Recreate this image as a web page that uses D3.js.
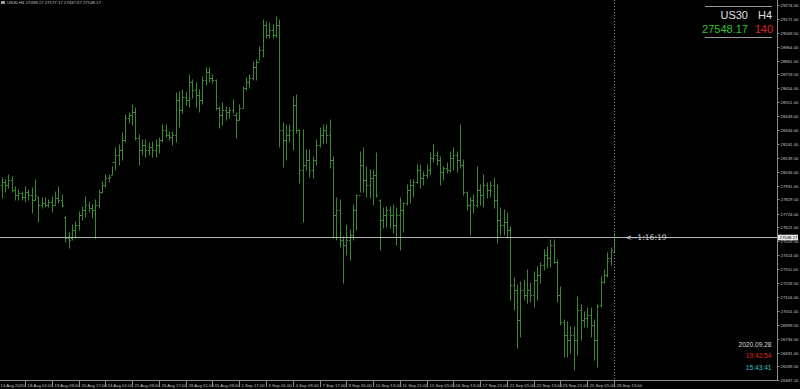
<!DOCTYPE html>
<html>
<head>
<meta charset="utf-8">
<script src="https://cdn.jsdelivr.net/npm/d3@7"></script>
<style>
  html, body { margin: 0; padding: 0; background: #000; }
  svg { display: block; }
</style>
</head>
<body>
<div id="chart"></div>
<script>
// US30 H4 bars, 14 Aug 21:00 .. 28 Sep 13:00
const opens = [
  27936, 27959, 27936, 27974, 27899, 27862, 27877, 27847, 27884, 27862,
  27825, 27847, 27788, 27803, 27788, 27810, 27788, 27840, 27825, 27699,
  27542, 27542, 27602, 27639, 27713, 27751, 27788, 27765, 27751, 27788,
  27884, 27936, 27988, 28011, 28107, 28159, 28196, 28271, 28434, 28457,
  28479, 28286, 28196, 28234, 28196, 28219, 28196, 28234, 28271, 28345,
  28308, 28293, 28308, 28568, 28494, 28590, 28568, 28702, 28642, 28605,
  28568, 28717, 28776, 28731, 28717, 28509, 28457, 28494, 28479, 28494,
  28457, 28419, 28509, 28657, 28702, 28731, 28813, 28850, 28940, 29125,
  29051, 29088, 29051, 29125, 28345, 28271, 28308, 28345, 28531, 28345,
  28048, 28085, 28122, 28048, 28122, 28234, 28308, 28345, 28308, 28122,
  27713, 27751, 27528, 27490, 27528, 27565, 27751, 27862, 28085, 27974,
  27936, 27988, 28011, 27825, 27676, 27713, 27751, 27713, 27639, 27713,
  27751, 27800, 27899, 27936, 27959, 28048, 27988, 28011, 28048, 28137,
  28159, 28122, 28033, 28063, 28048, 28137, 28159, 28122, 28085, 27884,
  27788, 27825, 27788, 27899, 27862, 27936, 27899, 27936, 27825, 27676,
  27639, 27661, 27602, 27193, 27156, 26933, 27156, 27119, 27156, 27119,
  27230, 27268, 27342, 27416, 27394, 27490, 27364, 27119, 26918, 26822,
  26784, 26822, 26784, 27007, 26933, 26948, 26970, 26896, 26784, 27045,
  27215, 27268, 27394, 27438.17
];
const highs = [
  27988, 27974, 28011, 27996, 27922, 27899, 27884, 27922, 27899, 27914,
  27974, 27847, 27840, 27840, 27825, 27847, 27884, 27922, 27862, 27699,
  27580, 27639, 27661, 27736, 27773, 27847, 27810, 27788, 27825, 27899,
  27959, 28011, 28011, 28070, 28211, 28234, 28323, 28457, 28471, 28531,
  28509, 28308, 28271, 28271, 28248, 28256, 28271, 28286, 28382, 28382,
  28330, 28330, 28620, 28627, 28642, 28627, 28754, 28717, 28694, 28642,
  28739, 28806, 28806, 28754, 28717, 28516, 28546, 28516, 28509, 28568,
  28471, 28531, 28665, 28731, 28754, 28850, 28865, 28962, 29162, 29148,
  29140, 29125, 29185, 29162, 28397, 28382, 28382, 28590, 28605, 28345,
  28345, 28196, 28196, 28144, 28271, 28360, 28382, 28382, 28419, 28144,
  27840, 27825, 27550, 27639, 27602, 27788, 27862, 28182, 28211, 28070,
  28048, 28048, 28174, 27825, 27765, 27773, 27773, 27788, 27765, 27840,
  27803, 27936, 27974, 27974, 28085, 28085, 28033, 28085, 28174, 28234,
  28182, 28144, 28070, 28100, 28182, 28211, 28182, 28382, 28122, 27884,
  27840, 27862, 28070, 27936, 28011, 27951, 27959, 27988, 27936, 27765,
  27751, 27728, 27624, 27245, 27193, 27215, 27230, 27305, 27208, 27290,
  27327, 27357, 27453, 27476, 27528, 27528, 27379, 27178, 26933, 26918,
  26881, 26881, 27104, 27045, 26993, 27022, 27022, 26933, 27045, 27253,
  27305, 27431, 27468, 27577.17
];
const lows = [
  27840, 27884, 27914, 27884, 27825, 27825, 27825, 27810, 27825, 27728,
  27825, 27661, 27765, 27773, 27773, 27736, 27788, 27803, 27773, 27513,
  27468, 27528, 27542, 27602, 27676, 27699, 27736, 27691, 27542, 27765,
  27877, 27922, 27959, 28011, 28048, 28085, 28122, 28256, 28397, 28382,
  28271, 28085, 28159, 28144, 28159, 28144, 28144, 28174, 28256, 28293,
  28271, 28234, 28256, 28367, 28471, 28531, 28516, 28583, 28516, 28479,
  28538, 28679, 28702, 28694, 28494, 28360, 28382, 28419, 28434, 28471,
  28286, 28419, 28509, 28642, 28657, 28717, 28717, 28865, 28888, 29029,
  29029, 29029, 29036, 28219, 28070, 28122, 28256, 28196, 28323, 27951,
  27661, 28048, 27996, 27988, 28085, 28219, 28248, 28248, 28063, 27542,
  27528, 27476, 27208, 27416, 27379, 27528, 27602, 27884, 27884, 27847,
  27840, 27788, 27847, 27453, 27617, 27624, 27617, 27580, 27490, 27453,
  27587, 27788, 27803, 27847, 27951, 27914, 27936, 27988, 28011, 28107,
  28085, 27936, 27974, 28026, 28033, 28048, 28033, 28063, 27862, 27751,
  27565, 27728, 27773, 27788, 27773, 27840, 27847, 27765, 27505, 27565,
  27565, 27542, 27082, 27007, 26725, 26807, 27082, 27059, 27067, 27030,
  27082, 27208, 27305, 27320, 27327, 27357, 27067, 26896, 26658, 26658,
  26688, 26561, 26673, 26784, 26881, 26881, 26807, 26636, 26584, 27030,
  27208, 27253, 27342, 27437.67
];
const closes = [
  27959, 27936, 27974, 27899, 27862, 27877, 27847, 27884, 27862, 27825,
  27862, 27788, 27803, 27788, 27810, 27788, 27840, 27825, 27788, 27542,
  27528, 27602, 27639, 27713, 27751, 27788, 27765, 27751, 27788, 27884,
  27936, 27988, 27996, 28107, 28159, 28196, 28271, 28434, 28457, 28479,
  28286, 28196, 28234, 28196, 28219, 28196, 28234, 28271, 28345, 28308,
  28293, 28308, 28568, 28494, 28590, 28568, 28702, 28642, 28605, 28568,
  28717, 28776, 28731, 28717, 28509, 28457, 28494, 28479, 28494, 28457,
  28419, 28509, 28657, 28702, 28731, 28813, 28850, 28940, 29125, 29051,
  29088, 29051, 29125, 28345, 28271, 28308, 28345, 28531, 28345, 28048,
  28085, 28122, 28048, 28122, 28234, 28308, 28345, 28308, 28122, 27713,
  27751, 27528, 27490, 27528, 27565, 27751, 27862, 28085, 27974, 27936,
  27988, 28011, 27862, 27676, 27713, 27751, 27713, 27639, 27713, 27751,
  27800, 27899, 27936, 27959, 28048, 27988, 28011, 28048, 28137, 28159,
  28122, 28033, 28063, 28048, 28137, 28159, 28122, 28085, 27884, 27788,
  27825, 27788, 27899, 27862, 27936, 27899, 27936, 27825, 27676, 27639,
  27661, 27602, 27193, 27156, 26933, 27156, 27119, 27156, 27119, 27230,
  27268, 27342, 27416, 27394, 27490, 27364, 27119, 26918, 26822, 26784,
  26822, 26784, 27007, 26933, 26948, 26970, 26896, 26784, 27037, 27215,
  27268, 27394, 27453, 27548.17
];

// time axis: one label every 8 bars, starting at bar 7
const timeLabels = ["18 Aug 01:00", "19 Aug 09:00", "20 Aug 17:00", "24 Aug 01:00",
  "25 Aug 09:00", "26 Aug 17:00", "28 Aug 01:00", "31 Aug 09:00", "1 Sep 17:00",
  "3 Sep 01:00", "4 Sep 09:00", "7 Sep 17:00", "9 Sep 05:00", "10 Sep 13:00",
  "11 Sep 21:00", "15 Sep 05:00", "16 Sep 13:00", "17 Sep 21:00", "21 Sep 05:00",
  "22 Sep 13:00", "23 Sep 21:00", "25 Sep 05:00", "28 Sep 13:00"];
const timeLabelBars = [7, 15, 23, 31, 39, 47, 55, 63, 71, 79, 87, 95, 103, 111,
  119, 127, 135, 143, 151, 159, 167, 175, 183];

const priceLabels = [29274.00, 29171.00, 29069.50, 28964.00, 28861.00, 28759.50,
  28654.00, 28551.00, 28449.00, 28344.00, 28241.00, 28139.50, 28034.00, 27931.00,
  27829.50, 27724.00, 27621.00, 27519.50, 27414.00, 27311.00, 27209.50, 27104.00,
  27001.00, 26899.50, 26794.00, 26691.00, 26589.50, 26487.20];

const bid = 27548.17;
const spread = 140;

const W = 800, H = 389;
const svg = d3.select("#chart").append("svg")
  .attr("width", W).attr("height", H)
  .style("background", "#000");

const y = d3.scaleLinear().domain([26487.2, 29274]).range([380, 5]);
const x = d3.scaleLinear().domain([0, opens.length - 1]).range([1.6, 614]);

const barColor = "#3b8732";
const axisColor = "#8c8c8c";
const textColor = "#c4c4c4";
const fontFam = "'Liberation Sans', Arial, sans-serif";

// bars
const bars = svg.append("g").attr("stroke", barColor).attr("stroke-width", 1);
opens.forEach(function(o, i) {
  const xi = Math.round(x(i)) + 0.5;
  bars.append("line")
    .attr("x1", xi).attr("x2", xi)
    .attr("y1", y(highs[i]) - 0.5).attr("y2", y(lows[i]) + 0.5);
  bars.append("line")
    .attr("x1", xi - 1.5).attr("x2", xi)
    .attr("y1", Math.round(y(o)) + 0.5).attr("y2", Math.round(y(o)) + 0.5);
  bars.append("line")
    .attr("x1", xi).attr("x2", xi + 1.5)
    .attr("y1", Math.round(y(closes[i])) + 0.5).attr("y2", Math.round(y(closes[i])) + 0.5);
});

// bid line
const by = Math.round(y(bid)) + 0.5;
svg.append("line")
  .attr("x1", 0).attr("x2", 777).attr("y1", by).attr("y2", by)
  .attr("stroke", "#b4b4b4").attr("stroke-width", 1);

// current bar separator (dotted)
const lastX = Math.round(x(opens.length - 1)) + 0.5;
svg.append("line")
  .attr("x1", lastX).attr("x2", lastX).attr("y1", 0).attr("y2", 380)
  .attr("stroke", "#8a8a8a").attr("stroke-width", 1).attr("stroke-dasharray", "1,2");

// bar countdown
svg.append("text")
  .attr("x", lastX + 11).attr("y", by + 2.5)
  .attr("fill", "#d0d0d0").attr("font-family", "'DejaVu Sans', sans-serif").attr("font-size", 7.6)
  .text("<--1:16:19");

// right price axis
svg.append("line")
  .attr("x1", 777.5).attr("x2", 777.5).attr("y1", 0).attr("y2", 380.5)
  .attr("stroke", axisColor);
const pAxis = svg.append("g");
priceLabels.forEach(function(p) {
  const py = Math.round(y(p)) + 0.5;
  pAxis.append("line").attr("x1", 777.5).attr("x2", 779.5).attr("y1", py).attr("y2", py)
    .attr("stroke", axisColor);
  pAxis.append("text")
    .attr("x", 780.5).attr("y", py + 1.5)
    .attr("fill", textColor).attr("font-family", fontFam).attr("font-size", 4.3)
    .text(d3.format(".2f")(p));
});

// bid price box on axis
svg.append("rect")
  .attr("x", 778).attr("y", by - 2.8).attr("width", 20).attr("height", 5.6)
  .attr("fill", "#e8e8e8");
svg.append("text")
  .attr("x", 779.5).attr("y", by + 1.6)
  .attr("fill", "#000").attr("font-family", fontFam).attr("font-size", 4.3)
  .text(d3.format(".2f")(bid));

// bottom time axis
svg.append("line")
  .attr("x1", 0).attr("x2", 777.5).attr("y1", 380.5).attr("y2", 380.5)
  .attr("stroke", axisColor);
const tAxis = svg.append("g");
tAxis.append("text")
  .attr("x", 0.5).attr("y", 386.5)
  .attr("fill", textColor).attr("font-family", fontFam).attr("font-size", 4.3)
  .text("14 Aug 2020");
timeLabels.forEach(function(t, j) {
  const tx = Math.round(x(timeLabelBars[j])) + 0.5;
  tAxis.append("line").attr("x1", tx).attr("x2", tx).attr("y1", 381).attr("y2", 387)
    .attr("stroke", axisColor);
  tAxis.append("text")
    .attr("x", tx + 2).attr("y", 386.5)
    .attr("fill", textColor).attr("font-family", fontFam).attr("font-size", 4.3)
    .text(t);
});

// top-left header
svg.append("rect").attr("x", 1).attr("y", 1).attr("width", 4).attr("height", 3)
  .attr("fill", "#9a9a9a");
svg.append("text")
  .attr("x", 7).attr("y", 4)
  .attr("fill", textColor).attr("font-family", fontFam).attr("font-size", 4.3)
  .text("US30,H4  27438.17 27577.17 27437.67 27548.17");

// top-right info panel
const panel = svg.append("g").attr("font-family", fontFam);
panel.append("line").attr("x1", 705).attr("x2", 772).attr("y1", 6.5).attr("y2", 6.5)
  .attr("stroke", "#9a9a9a");
panel.append("line").attr("x1", 705).attr("x2", 772).attr("y1", 37.5).attr("y2", 37.5)
  .attr("stroke", "#9a9a9a");
panel.append("text").attr("x", 748).attr("y", 18.5).attr("text-anchor", "end")
  .attr("fill", "#e0e0e0").attr("font-size", 11).text("US30");
panel.append("text").attr("x", 772).attr("y", 18.5).attr("text-anchor", "end")
  .attr("fill", "#e0e0e0").attr("font-size", 11).text("H4");
panel.append("text").attr("x", 748).attr("y", 32.5).attr("text-anchor", "end")
  .attr("fill", "#2fc42f").attr("font-size", 11).text(d3.format(".2f")(bid));
panel.append("text").attr("x", 773).attr("y", 32.5).attr("text-anchor", "end")
  .attr("fill", "#e02020").attr("font-size", 11).text(spread);

// bottom-right clock
const clock = svg.append("g").attr("font-family", fontFam).attr("font-size", 6.6)
  .attr("text-anchor", "end");
clock.append("text").attr("x", 771.5).attr("y", 347).attr("fill", "#d8d8d8").text("2020.09.28");
clock.append("text").attr("x", 771.5).attr("y", 357.5).attr("fill", "#e02424").text("19:42:54");
clock.append("text").attr("x", 771.5).attr("y", 369.5).attr("fill", "#3ec0c0").text("15:43:41");
</script>
</body>
</html>
